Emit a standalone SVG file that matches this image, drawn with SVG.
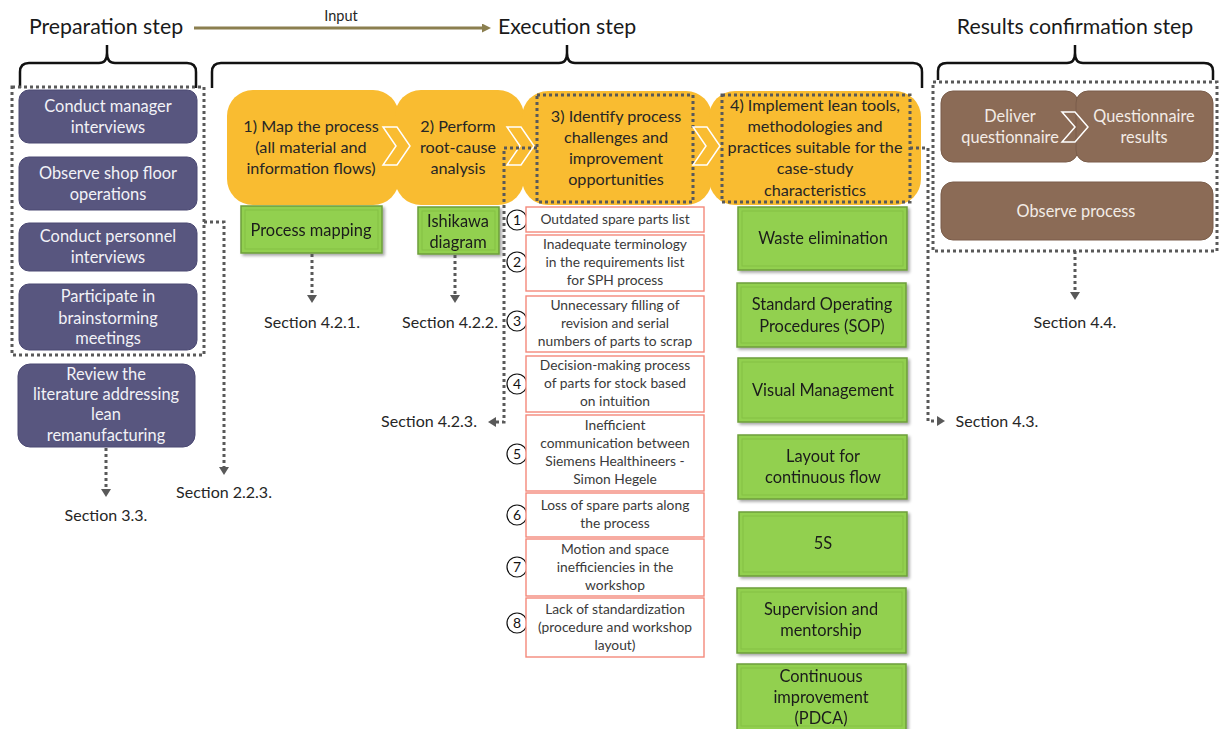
<svg xmlns="http://www.w3.org/2000/svg" width="1221" height="729" viewBox="0 0 1221 729">
  <defs>
    <style>
      text { font-family: Lato, "Open Sans", "Liberation Sans", sans-serif; }
      .hdr { font-size: 21.3px; fill: #1a1a1a; text-anchor: middle; }
      .brace { fill: none; stroke: #111; stroke-width: 2.5; stroke-linejoin: round; }
      .dot { fill: none; stroke: #595959; stroke-width: 3; stroke-dasharray: 3 3; }
      .purple { fill: #58567F; stroke: #4A4872; stroke-width: 1; }
      .ptxt { font-size: 16.4px; fill: #F2F2F7; text-anchor: middle; }
      .yel { fill: #F9BC31; }
      .ytxt { font-size: 16.2px; fill: #262626; text-anchor: middle; }
      .chev { fill: none; stroke: #FFFFFF; stroke-width: 1.5; stroke-linejoin: miter; }
      .green { fill: #92D050; stroke: #6E9E3A; stroke-width: 1.5; }
      .ginner { fill: none; stroke: #84C045; stroke-width: 1; }
      .gtxt { font-size: 16.4px; fill: #1a1a1a; text-anchor: middle; }
      .red { fill: #FFFFFF; stroke: #F4897B; stroke-width: 1.4; }
      .rtxt { font-size: 13.8px; fill: #3a3a3a; text-anchor: middle; }
      .num { fill: #FFFFFF; stroke: #111; stroke-width: 1.2; }
      .ntxt { font-size: 14px; fill: #111; text-anchor: middle; }
      .brown { fill: #8B6B56; stroke: #7A5D4A; stroke-width: 1; }
      .btxt { font-size: 16.3px; fill: #F3ECE6; text-anchor: middle; }
      .sec { font-size: 16px; fill: #262626; text-anchor: middle; }
    </style>
    <marker id="ah" viewBox="0 0 8 10" markerWidth="8" markerHeight="10" refX="0" refY="5" orient="auto" markerUnits="userSpaceOnUse">
      <path d="M0,0 L8,5 L0,10 z" fill="#595959"/>
    </marker>
    <marker id="ahInput" viewBox="0 0 9 9" markerWidth="9" markerHeight="9" refX="0" refY="4.5" orient="auto" markerUnits="userSpaceOnUse">
      <path d="M0,0 L9,4.5 L0,9 z" fill="#8B7F4F"/>
    </marker>
    <filter id="shadow" x="-10%" y="-10%" width="125%" height="130%">
      <feDropShadow dx="2" dy="2" stdDeviation="1.5" flood-color="#000" flood-opacity="0.35"/>
    </filter>
  </defs>

  <!-- Step headings -->
  <g id="headings">
    <text class="hdr" x="106" y="34">Preparation step</text>
    <text class="hdr" x="567" y="34">Execution step</text>
    <text class="hdr" x="1075" y="34">Results confirmation step</text>
    <line x1="194" y1="28" x2="482" y2="28" stroke="#8B7F4F" stroke-width="3" marker-end="url(#ahInput)"/>
    <text x="341" y="21" font-size="14.5px" fill="#262626" text-anchor="middle">Input</text>
  </g>

  <!-- Braces -->
  <g id="braces">
    <path class="brace" d="M20,88 L20,72 Q20,63 29,63 L99,63 Q107,63 107,53 L107,45 M107,53 Q107,63 115,63 L187,63 Q196,63 196,72 L196,88"/>
    <path class="brace" d="M212,88 L212,72 Q212,63 221,63 L559,63 Q567,63 567,53 L567,45 M567,53 Q567,63 575,63 L913,63 Q922,63 922,72 L922,88"/>
    <path class="brace" d="M938,80 L938,71 Q938,63 947,63 L1067,63 Q1075,63 1075,53 L1075,45 M1075,53 Q1075,63 1083,63 L1204,63 Q1213,63 1213,71 L1213,80"/>
  </g>

  <!-- Preparation step -->
  <g id="prep-group">
    <rect class="dot" x="12" y="87" width="192" height="268"/>
  </g>
  <g id="node-manager-interviews">
    <rect class="purple" x="19" y="90" width="178" height="53" rx="10"/>
    <text class="ptxt" x="108" y="112">Conduct manager</text>
    <text class="ptxt" x="108" y="133">interviews</text>
  </g>
  <g id="node-shop-floor">
    <rect class="purple" x="19" y="157" width="178" height="53" rx="10"/>
    <text class="ptxt" x="108" y="179">Observe shop floor</text>
    <text class="ptxt" x="108" y="200">operations</text>
  </g>
  <g id="node-personnel-interviews">
    <rect class="purple" x="19" y="223" width="178" height="48" rx="10"/>
    <text class="ptxt" x="108" y="242">Conduct personnel</text>
    <text class="ptxt" x="108" y="263">interviews</text>
  </g>
  <g id="node-brainstorming">
    <rect class="purple" x="19" y="284" width="178" height="66" rx="10"/>
    <text class="ptxt" x="108" y="302">Participate in</text>
    <text class="ptxt" x="108" y="324">brainstorming</text>
    <text class="ptxt" x="108" y="344">meetings</text>
  </g>
  <g id="node-literature">
    <rect class="purple" x="18" y="364" width="177" height="83" rx="12"/>
    <text class="ptxt" x="106" y="380">Review the</text>
    <text class="ptxt" x="106" y="400">literature addressing</text>
    <text class="ptxt" x="106" y="420">lean</text>
    <text class="ptxt" x="106" y="441">remanufacturing</text>
  </g>

  <!-- Execution step: process chevrons -->
  <g id="node-step1">
    <rect class="yel" x="227" y="90" width="172" height="115" rx="26"/>
    <text class="ytxt" x="311" y="132">1) Map the process</text>
    <text class="ytxt" x="311" y="153">(all material and</text>
    <text class="ytxt" x="311" y="174">information flows)</text>
  </g>
  <g id="node-step2">
    <rect class="yel" x="395" y="90" width="129" height="115" rx="26"/>
    <text class="ytxt" x="458" y="132">2) Perform</text>
    <text class="ytxt" x="458" y="153">root-cause</text>
    <text class="ytxt" x="458" y="174">analysis</text>
  </g>
  <g id="node-step3">
    <rect class="yel" x="522" y="91" width="190" height="114" rx="26"/>
    <rect class="dot" x="537" y="95" width="156" height="107"/>
    <text class="ytxt" x="616" y="122">3) Identify process</text>
    <text class="ytxt" x="616" y="143">challenges and</text>
    <text class="ytxt" x="616" y="164">improvement</text>
    <text class="ytxt" x="616" y="185">opportunities</text>
  </g>
  <g id="node-step4">
    <rect class="yel" x="709" y="91" width="212" height="114" rx="26"/>
    <rect class="dot" x="722" y="95" width="188" height="107"/>
    <text class="ytxt" x="815" y="111">4) Implement lean tools,</text>
    <text class="ytxt" x="815" y="132">methodologies and</text>
    <text class="ytxt" x="815" y="153">practices suitable for the</text>
    <text class="ytxt" x="815" y="174">case-study</text>
    <text class="ytxt" x="815" y="196">characteristics</text>
  </g>
  <g id="chevrons">
    <path class="chev" d="M383,127 L397,127 L410,146 L397,165 L383,165 L396,146 Z"/>
    <path class="chev" d="M507,127 L521,127 L534,146 L521,165 L507,165 L520,146 Z"/>
    <path class="chev" d="M693,127 L707,127 L720,146 L707,165 L693,165 L706,146 Z"/>
  </g>

  <!-- Tools of steps 1 and 2 -->
  <g id="node-process-mapping" filter="url(#shadow)">
    <rect class="green" x="241" y="206" width="141" height="47"/>
    <rect class="ginner" x="245" y="210" width="133" height="39"/>
    <text class="gtxt" x="311" y="236">Process mapping</text>
  </g>
  <g id="node-ishikawa" filter="url(#shadow)">
    <rect class="green" x="418" y="207" width="81" height="47"/>
    <rect class="ginner" x="422" y="211" width="73" height="39"/>
    <text class="gtxt" x="458" y="227">Ishikawa</text>
    <text class="gtxt" x="458" y="248">diagram</text>
  </g>

  <!-- Challenges of step 3 -->
  <g id="node-challenge-1">
    <circle class="num" cx="517" cy="220" r="10"/>
    <text class="ntxt" x="517" y="225">1</text>
    <rect class="red" x="526" y="207" width="178" height="25"/>
    <text class="rtxt" x="615" y="224">Outdated spare parts list</text>
  </g>
  <g id="node-challenge-2">
    <circle class="num" cx="517" cy="262" r="10"/>
    <text class="ntxt" x="517" y="267">2</text>
    <rect class="red" x="526" y="235" width="178" height="56"/>
    <text class="rtxt" x="615" y="249">Inadequate terminology</text>
    <text class="rtxt" x="615" y="267">in the requirements list</text>
    <text class="rtxt" x="615" y="285">for SPH process</text>
  </g>
  <g id="node-challenge-3">
    <circle class="num" cx="517" cy="321" r="10"/>
    <text class="ntxt" x="517" y="326">3</text>
    <rect class="red" x="526" y="296" width="178" height="56"/>
    <text class="rtxt" x="615" y="310">Unnecessary filling of</text>
    <text class="rtxt" x="615" y="328">revision and serial</text>
    <text class="rtxt" x="615" y="346">numbers of parts to scrap</text>
  </g>
  <g id="node-challenge-4">
    <circle class="num" cx="517" cy="384" r="10"/>
    <text class="ntxt" x="517" y="389">4</text>
    <rect class="red" x="526" y="356" width="178" height="56"/>
    <text class="rtxt" x="615" y="370">Decision-making process</text>
    <text class="rtxt" x="615" y="388">of parts for stock based</text>
    <text class="rtxt" x="615" y="406">on intuition</text>
  </g>
  <g id="node-challenge-5">
    <circle class="num" cx="517" cy="454" r="10"/>
    <text class="ntxt" x="517" y="459">5</text>
    <rect class="red" x="526" y="415" width="178" height="76"/>
    <text class="rtxt" x="615" y="430">Inefficient</text>
    <text class="rtxt" x="615" y="448">communication between</text>
    <text class="rtxt" x="615" y="466">Siemens Healthineers -</text>
    <text class="rtxt" x="615" y="484">Simon Hegele</text>
  </g>
  <g id="node-challenge-6">
    <circle class="num" cx="517" cy="515" r="10"/>
    <text class="ntxt" x="517" y="520">6</text>
    <rect class="red" x="526" y="493" width="178" height="44"/>
    <text class="rtxt" x="615" y="510">Loss of spare parts along</text>
    <text class="rtxt" x="615" y="528">the process</text>
  </g>
  <g id="node-challenge-7">
    <circle class="num" cx="517" cy="567" r="10"/>
    <text class="ntxt" x="517" y="572">7</text>
    <rect class="red" x="526" y="539" width="178" height="57"/>
    <text class="rtxt" x="615" y="554">Motion and space</text>
    <text class="rtxt" x="615" y="572">inefficiencies in the</text>
    <text class="rtxt" x="615" y="590">workshop</text>
  </g>
  <g id="node-challenge-8">
    <circle class="num" cx="517" cy="623" r="10"/>
    <text class="ntxt" x="517" y="628">8</text>
    <rect class="red" x="526" y="598" width="178" height="59"/>
    <text class="rtxt" x="615" y="614">Lack of standardization</text>
    <text class="rtxt" x="615" y="632">(procedure and workshop</text>
    <text class="rtxt" x="615" y="650">layout)</text>
  </g>

  <!-- Lean tools of step 4 -->
  <g id="node-waste" filter="url(#shadow)">
    <rect class="green" x="738" y="207" width="169" height="63"/>
    <rect class="ginner" x="742" y="211" width="161" height="55"/>
    <text class="gtxt" x="823" y="244">Waste elimination</text>
  </g>
  <g id="node-sop" filter="url(#shadow)">
    <rect class="green" x="737" y="283" width="169" height="64"/>
    <rect class="ginner" x="741" y="287" width="161" height="56"/>
    <text class="gtxt" x="822" y="310">Standard Operating</text>
    <text class="gtxt" x="822" y="332">Procedures (SOP)</text>
  </g>
  <g id="node-visual" filter="url(#shadow)">
    <rect class="green" x="738" y="358" width="169" height="64"/>
    <rect class="ginner" x="742" y="362" width="161" height="56"/>
    <text class="gtxt" x="823" y="396">Visual Management</text>
  </g>
  <g id="node-layout" filter="url(#shadow)">
    <rect class="green" x="738" y="435" width="169" height="64"/>
    <rect class="ginner" x="742" y="439" width="161" height="56"/>
    <text class="gtxt" x="823" y="462">Layout for</text>
    <text class="gtxt" x="823" y="483">continuous flow</text>
  </g>
  <g id="node-5s" filter="url(#shadow)">
    <rect class="green" x="739" y="512" width="168" height="64"/>
    <rect class="ginner" x="743" y="516" width="160" height="56"/>
    <text class="gtxt" x="823" y="549">5S</text>
  </g>
  <g id="node-supervision" filter="url(#shadow)">
    <rect class="green" x="737" y="588" width="169" height="65"/>
    <rect class="ginner" x="741" y="592" width="161" height="57"/>
    <text class="gtxt" x="821" y="615">Supervision and</text>
    <text class="gtxt" x="821" y="636">mentorship</text>
  </g>
  <g id="node-continuous" filter="url(#shadow)">
    <rect class="green" x="737" y="664" width="169" height="66"/>
    <rect class="ginner" x="741" y="668" width="161" height="58"/>
    <text class="gtxt" x="821" y="682">Continuous</text>
    <text class="gtxt" x="821" y="703">improvement</text>
    <text class="gtxt" x="821" y="724">(PDCA)</text>
  </g>

  <!-- Results confirmation step -->
  <g id="results-group">
    <rect class="dot" x="933" y="82" width="284" height="169"/>
  </g>
  <g id="node-deliver">
    <rect class="brown" x="941" y="91" width="137" height="71" rx="12"/>
    <text class="btxt" x="1010" y="122">Deliver</text>
    <text class="btxt" x="1010" y="143">questionnaire</text>
  </g>
  <g id="node-results">
    <rect class="brown" x="1076" y="91" width="137" height="71" rx="12"/>
    <text class="btxt" x="1144" y="122">Questionnaire</text>
    <text class="btxt" x="1144" y="143">results</text>
  </g>
  <path class="chev" d="M1062,112 L1075,112 L1088,127 L1075,142 L1062,142 L1075,127 Z"/>
  <g id="node-observe">
    <rect class="brown" x="941" y="182" width="272" height="58" rx="12"/>
    <text class="btxt" x="1076" y="217">Observe process</text>
  </g>

  <!-- Connectors to report sections -->
  <g id="connectors">
    <path class="dot" d="M106,448 L106,489" marker-end="url(#ah)"/>
    <path class="dot" d="M204,222 L224,222 L224,467" marker-end="url(#ah)"/>
    <path class="dot" d="M312,254 L312,295" marker-end="url(#ah)"/>
    <path class="dot" d="M455,255 L455,295" marker-end="url(#ah)"/>
    <path class="dot" d="M537,148 L504,148 L504,422 L496,422" marker-end="url(#ah)"/>
    <path class="dot" d="M910,148 L928,148 L928,421 L937,421" marker-end="url(#ah)"/>
    <path class="dot" d="M1075,251 L1075,292" marker-end="url(#ah)"/>
  </g>

  <!-- Section references -->
  <g id="sections">
    <text class="sec" x="106" y="521">Section 3.3.</text>
    <text class="sec" x="224" y="498">Section 2.2.3.</text>
    <text class="sec" x="312" y="328">Section 4.2.1.</text>
    <text class="sec" x="450" y="328">Section 4.2.2.</text>
    <text class="sec" x="429" y="427">Section 4.2.3.</text>
    <text class="sec" x="997" y="427">Section 4.3.</text>
    <text class="sec" x="1075" y="328">Section 4.4.</text>
  </g>
</svg>
